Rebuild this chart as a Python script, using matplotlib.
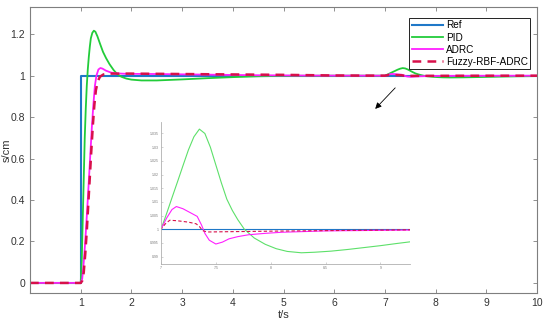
import matplotlib
matplotlib.use("Agg")
import matplotlib.pyplot as plt

plt.rcParams["font.family"] = ["Liberation Sans", "DejaVu Sans"]

# reference step
t_ref = [0, 1.0, 1.0, 10]
ref = [0, 0, 1, 1]

# PID response
t_pid = [0, 1.0, 1.02, 1.04, 1.06, 1.08, 1.10, 1.12, 1.14, 1.16, 1.18, 1.20,
         1.23, 1.26, 1.29, 1.33, 1.38, 1.44, 1.5, 1.57, 1.65, 1.72, 1.8, 1.9,
         2.0, 2.2, 2.5, 3.0, 3.5, 4.0, 4.5, 5.0, 6.0, 7.0,
         7.05, 7.1, 7.15, 7.2, 7.25, 7.3, 7.35, 7.4, 7.45, 7.5, 7.55, 7.6,
         7.65, 7.7, 7.76, 7.85, 7.95, 8.05, 8.15, 8.28, 8.4, 8.55, 8.7, 8.85,
         9.0, 9.15, 9.27, 9.6, 10]
pid = [0, 0, 0.1, 0.3, 0.5, 0.7, 0.84, 0.95, 1.03, 1.09, 1.14, 1.18,
       1.207, 1.217, 1.212, 1.19, 1.155, 1.115, 1.085, 1.055, 1.027, 1.008, 0.995, 0.986,
       0.981, 0.977, 0.977, 0.982, 0.988, 0.993, 0.997, 0.999, 1.0, 1.0,
       1.0056, 1.0115, 1.0173, 1.0232, 1.029, 1.0338, 1.0366, 1.035, 1.030, 1.0235, 1.017, 1.011,
       1.0069, 1.0035, 1.0, 0.9968, 0.9945, 0.9929, 0.9919, 0.9914, 0.9916, 0.9920, 0.9926, 0.9933,
       0.9940, 0.9948, 0.9954, 0.997, 0.998]

# ADRC response
t_adrc = [0, 1.0, 1.03, 1.05, 1.07, 1.1, 1.13, 1.16, 1.19, 1.22, 1.25, 1.28,
          1.31, 1.35, 1.39, 1.43, 1.5, 1.6, 1.7, 1.9, 2.5, 3.5, 4.5, 5.5, 7.0,
          7.05, 7.1, 7.14, 7.2, 7.27, 7.33, 7.37, 7.4, 7.44, 7.5, 7.56, 7.62,
          7.7, 7.8, 7.95, 8.1, 8.5, 9.0, 9.27, 10]
adrc = [0, 0, 0.02, 0.07, 0.13, 0.24, 0.36, 0.49, 0.62, 0.75, 0.86, 0.95,
        1.0, 1.03, 1.037, 1.034, 1.024, 1.015, 1.011, 1.009, 1.008, 1.005, 1.002, 1.0005, 1.0,
        1.004, 1.0072, 1.0083, 1.0075, 1.006, 1.0047, 1.0015, 0.9985, 0.996, 0.9946, 0.9953, 0.9965,
        0.9973, 0.998, 0.9985, 0.9989, 0.9994, 0.9996, 0.9997, 0.9999]

# Fuzzy-RBF-ADRC response
t_fuzzy = [0, 1.0, 1.03, 1.06, 1.09, 1.12, 1.15, 1.18, 1.21, 1.24, 1.27, 1.3,
           1.34, 1.38, 1.45, 1.55, 2.0, 3.0, 4.0, 5.0, 6.0, 7.0,
           7.04, 7.08, 7.15, 7.25, 7.32, 7.35, 7.38, 7.42, 7.6, 8.0, 8.5, 9.0, 9.27, 10]
fuzzy = [0, 0, 0.01, 0.05, 0.14, 0.25, 0.38, 0.51, 0.64, 0.76, 0.86, 0.93,
         0.975, 0.995, 1.006, 1.01, 1.01, 1.008, 1.006, 1.004, 1.001, 1.0,
         1.002, 1.0033, 1.0031, 1.0026, 1.002, 1.001, 0.9995, 0.999, 0.9991, 0.9993, 0.9995, 0.9997, 0.9998, 0.9999]

x_ticks = [1, 2, 3, 4, 5, 6, 7, 8, 9, 10]
y_ticks = [0, 0.2, 0.4, 0.6, 0.8, 1.0, 1.2]
y_labels = ["0", "0.2", "0.4", "0.6", "0.8", "1", "1.2"]
ix_ticks = [7, 7.5, 8, 8.5, 9]
ix_labels = ["7", "7.5", "8", "8.5", "9"]
iy_ticks = [0.99, 0.995, 1.0, 1.005, 1.01, 1.015, 1.02, 1.025, 1.03, 1.035]
iy_labels = ["0.99", "0.995", "1", "1.005", "1.01", "1.015", "1.02", "1.025", "1.03", "1.035"]

c_ref = "#1f78c8"
c_pid = "#22cc3a"
c_adrc = "#ff1fff"
c_fuzzy = "#d8104a"
grey = "#7f7f7f"

fig = plt.figure(figsize=(5.5, 3.21), dpi=100)
ax = fig.add_axes([0.0545, 0.0863, 0.922, 0.891])

ax.plot(t_ref, ref, color=c_ref, lw=1.5, label="Ref")
ax.plot(t_pid, pid, color=c_pid, lw=1.3, label="PID")
ax.plot(t_adrc, adrc, color=c_adrc, lw=1.3, label="ADRC")
ax.plot(t_fuzzy, fuzzy, color=c_fuzzy, lw=1.8, ls=(0, (3.5, 2.5)), label="Fuzzy-RBF-ADRC")

ax.set_xlim(0, 10)
ax.set_ylim(-0.05, 1.33)
ax.set_xticks(x_ticks)
ax.set_yticks(y_ticks)
ax.set_yticklabels(y_labels)
ax.tick_params(direction="in", top=True, right=True, length=3, width=0.6,
               labelsize=7.5, colors=grey, labelcolor="#333333")
for s in ax.spines.values():
    s.set_color(grey)
    s.set_linewidth(0.8)
ax.set_xlabel("t/s", fontsize=8, color="#333333", labelpad=1)
ax.set_ylabel("s/cm", fontsize=8, color="#333333")
ax.yaxis.set_label_coords(-0.036, 0.5)

leg = ax.legend(loc="upper right", bbox_to_anchor=(0.9868, 0.963), fontsize=7.2,
                handlelength=3.1, handletextpad=0.3, borderpad=0.25,
                labelspacing=0.22, borderaxespad=0, fancybox=False, framealpha=1)
leg.get_frame().set_edgecolor("#222222")
leg.get_frame().set_linewidth(0.7)

ax.annotate("", xy=(6.77, 0.83), xytext=(7.24, 0.951),
            arrowprops=dict(arrowstyle="-|>", color="black", lw=0.6,
                            mutation_scale=9))

# zoomed inset
ins = fig.add_axes([161 / 550, 1 - 264 / 321, 249 / 550, 142 / 321])
ins.plot(t_ref, ref, color=c_ref, lw=0.8)
ins.plot(t_pid, pid, color="#5de06a", lw=0.8)
ins.plot(t_adrc, adrc, color=c_adrc, lw=0.8)
ins.plot(t_fuzzy, fuzzy, color=c_fuzzy, lw=0.8, ls=(0, (3, 2)))
ins.set_xlim(7, 9.27)
ins.set_ylim(0.9873, 1.0392)
ins.set_xticks(ix_ticks)
ins.set_xticklabels(ix_labels)
ins.set_yticks(iy_ticks)
ins.set_yticklabels(iy_labels)
ins.spines["top"].set_visible(False)
ins.spines["right"].set_visible(False)
for s in ["left", "bottom"]:
    ins.spines[s].set_color("#b0b0b0")
    ins.spines[s].set_linewidth(0.6)
ins.tick_params(direction="in", length=1.5, width=0.4, labelsize=2.5,
                colors="#b0b0b0", labelcolor="#777777", pad=1.5)
ins.patch.set_alpha(0)

fig.savefig("out.png", dpi=100)
